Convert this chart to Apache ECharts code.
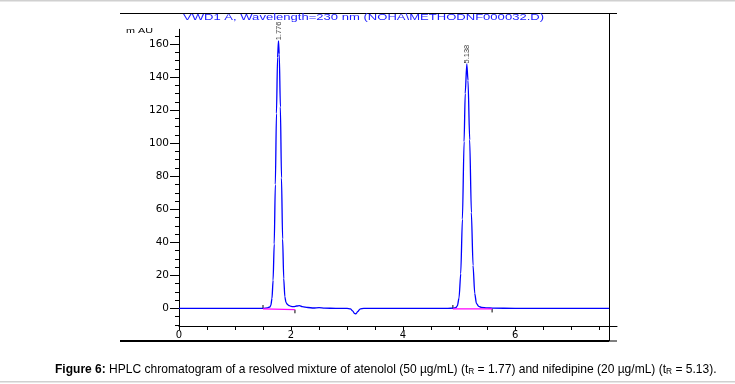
<!DOCTYPE html>
<html><head><meta charset="utf-8">
<script src="https://cdn.jsdelivr.net/npm/echarts@6/dist/echarts.min.js"></script>
<style>html,body{margin:0;padding:0;background:#fff}#c{width:735px;height:384px}</style>
</head><body><div id="c"></div>
<script>
// ---- data ----
const titleText = 'VWD1 A, Wavelength=230 nm (NOHA\\METHODNF000032.D)';
const yUnit = 'm AU';
const captionBold = 'Figure 6:';
const captionParts = [' HPLC chromatogram of a resolved mixture of atenolol (50 µg/mL) (t', 'R', ' = 1.77) and nifedipine (20 µg/mL) (t', 'R', ' = 5.13).'];

const timeMin = [0, 1.50, 1.58, 1.62, 1.64, 1.66, 1.68, 1.70, 1.72, 1.74, 1.76, 1.776, 1.79, 1.81, 1.83, 1.85, 1.87, 1.89, 1.91, 1.94, 1.97, 2.00, 2.05, 2.10, 2.15, 2.20, 2.30, 2.40, 2.50, 2.60, 2.80, 3.00, 3.06, 3.10, 3.13, 3.16, 3.19, 3.23, 3.30, 3.50, 4.80, 4.90, 4.94, 4.97, 5.00, 5.03, 5.06, 5.09, 5.11, 5.138, 5.16, 5.19, 5.22, 5.25, 5.28, 5.31, 5.35, 5.40, 5.50, 5.60, 6.00, 7.00, 7.68];
const signalMAU = [0, 0, 0.3, 0.8, 1.8, 6, 17, 39, 75, 118, 152, 162, 154, 122, 79, 42, 18, 7, 3.5, 2.2, 1.6, 1.2, 1.0, 1.4, 1.6, 1.0, 0.5, 0.2, 0.4, 0.1, 0, 0, -0.3, -1.5, -3.0, -3.4, -2.0, -0.5, 0, 0, 0, 0.1, 0.4, 1.5, 6.3, 21, 54, 101, 130, 148, 138, 102, 58, 26, 9, 3, 1.2, 0.6, 0.3, 0.1, 0, 0, 0];

const peakTimes = [1.776, 5.138];
const peakHeights = [162, 148];
const peakLabels = ['1.776', '5.138'];

const baseline1T = [1.50, 2.07];
const baseline1Y = [-0.3, -0.8];
const baseline2T = [4.89, 5.59];
const baseline2Y = [-0.3, -0.3];
const markerT = [1.50, 2.07, 4.89, 5.59];
const markerFrom = [-0.3, -0.8, -0.3, -0.3];
const markerTo = [2.0, -3.0, 2.0, -2.5];

const xLabelValues = [0, 2, 4, 6];
const xTickValues = [0, 0.5, 1, 1.5, 2, 2.5, 3, 3.5, 4, 4.5, 5, 5.5, 6, 6.5, 7, 7.5];
const yLabelValues = [0, 20, 40, 60, 80, 100, 120, 140, 160];
const yMinorValues = [-10, -5, 5, 10, 15, 25, 30, 35, 45, 50, 55, 65, 70, 75, 85, 90, 95, 105, 110, 115, 125, 130, 135, 145, 150, 155, 165];

// ---- chart ----
const chart = echarts.init(document.getElementById('c'), null, {renderer: 'canvas'});
const trace = timeMin.map((t, i) => [t, signalMAU[i]]);
const peaks = peakTimes.map((t, i) => [t, peakHeights[i]]);
const markers = markerT.map((t, i) => [t, markerFrom[i], markerTo[i]]);
const axisFont = 'DejaVu Sans';
const yMin = -10.7, yMax = 169;

const option = {
  animation: false,
  backgroundColor: '#fff',
  grid: {left: 179, right: 118, top: 29.3, bottom: 58, containLabel: false},
  xAxis: {
    type: 'value', min: 0, max: 7.82,
    axisLine: {onZero: false, lineStyle: {color: '#000', width: 1}},
    axisTick: {show: true, customValues: xTickValues, length: 4, lineStyle: {color: '#000'}},
    axisLabel: {customValues: xLabelValues, margin: 4, fontSize: 10, fontFamily: axisFont, color: '#000'},
    splitLine: {show: false}
  },
  yAxis: [
    {
      type: 'value', min: yMin, max: yMax, position: 'left',
      axisLine: {show: true, onZero: false, lineStyle: {color: '#000', width: 1}},
      axisTick: {show: true, customValues: yLabelValues, length: 9, lineStyle: {color: '#000'}},
      axisLabel: {customValues: yLabelValues, margin: 10, fontSize: 10.5, fontFamily: axisFont, color: '#000'},
      splitLine: {show: false}
    },
    {
      type: 'value', min: yMin, max: yMax, position: 'left', offset: 0,
      axisLine: {show: false, onZero: false},
      axisTick: {show: true, customValues: yMinorValues, length: 4, lineStyle: {color: '#000'}},
      axisLabel: {show: false},
      splitLine: {show: false}
    }
  ],
  series: [
    {
      type: 'line', name: 'VWD1 A', data: trace, yAxisIndex: 0,
      showSymbol: false, symbol: 'none', smooth: 0.25, smoothMonotone: 'x',
      lineStyle: {color: '#0000ff', width: 1.3}
    },
    {
      type: 'line', data: baseline1T.map((t, i) => [t, baseline1Y[i]]), symbol: 'none',
      lineStyle: {color: '#ff00ff', width: 1.2}
    },
    {
      type: 'line', data: baseline2T.map((t, i) => [t, baseline2Y[i]]), symbol: 'none',
      lineStyle: {color: '#ff00ff', width: 1.2}
    },
    {
      type: 'custom', data: markers,
      renderItem: function (params, api) {
        const p0 = api.coord([api.value(0), api.value(1)]);
        const p1 = api.coord([api.value(0), api.value(2)]);
        return {type: 'line', shape: {x1: p0[0], y1: p0[1], x2: p1[0], y2: p1[1]}, style: {stroke: '#000', lineWidth: 1}};
      }
    },
    {
      type: 'scatter', data: peaks, symbolSize: 1, itemStyle: {color: 'rgba(0,0,0,0)'},
      label: {
        show: true, position: 'top', distance: 0, rotate: 90, align: 'left', verticalAlign: 'middle',
        formatter: p => peakLabels[p.dataIndex], fontSize: 7.5, fontFamily: 'Liberation Sans', color: '#000'
      }
    }
  ],
  graphic: [
    {type: 'rect', shape: {x: 0, y: 0, width: 735, height: 1.5}, style: {fill: '#d0d0d0'}, silent: true},
    {type: 'rect', shape: {x: 0, y: 381, width: 735, height: 1.5}, style: {fill: '#d0d0d0'}, silent: true},
    {type: 'line', shape: {x1: 120, y1: 13.5, x2: 617, y2: 13.5}, style: {stroke: '#000', lineWidth: 1}, silent: true},
    {type: 'line', shape: {x1: 609.5, y1: 13, x2: 609.5, y2: 341}, style: {stroke: '#000', lineWidth: 1}, silent: true},
    {type: 'line', shape: {x1: 120, y1: 341, x2: 609, y2: 341}, style: {stroke: '#000', lineWidth: 2.2}, silent: true},
    {type: 'line', shape: {x1: 609, y1: 341, x2: 617, y2: 341}, style: {stroke: '#000', lineWidth: 1}, silent: true},
    {type: 'text', x: 183, y: 17.5, scaleX: 1.45, scaleY: 1,
      style: {text: titleText, font: '9px "Liberation Sans"', fill: '#1c1cff', verticalAlign: 'middle', align: 'left'}},
    {type: 'text', x: 126, y: 31, scaleX: 1.35,
      style: {text: yUnit, font: '8px "Liberation Sans"', fill: '#000', verticalAlign: 'middle', align: 'left'}},
    {type: 'text', x: 55, y: 369, scaleX: 0.925,
      style: {
        text: '{b|' + captionBold + '}' + captionParts[0] + '{s|' + captionParts[1] + '}' + captionParts[2] + '{s|' + captionParts[3] + '}' + captionParts[4],
        font: '13px "Liberation Sans"', fill: '#000', verticalAlign: 'middle', align: 'left',
        rich: {
          b: {fontWeight: 'bold', fontSize: 13, fontFamily: '"Liberation Sans"'},
          s: {fontSize: 9, fontFamily: '"Liberation Sans"', padding: [6, 0, 0, 0]}
        }
      }}
  ]
};
chart.setOption(option);
</script>
</body></html>
